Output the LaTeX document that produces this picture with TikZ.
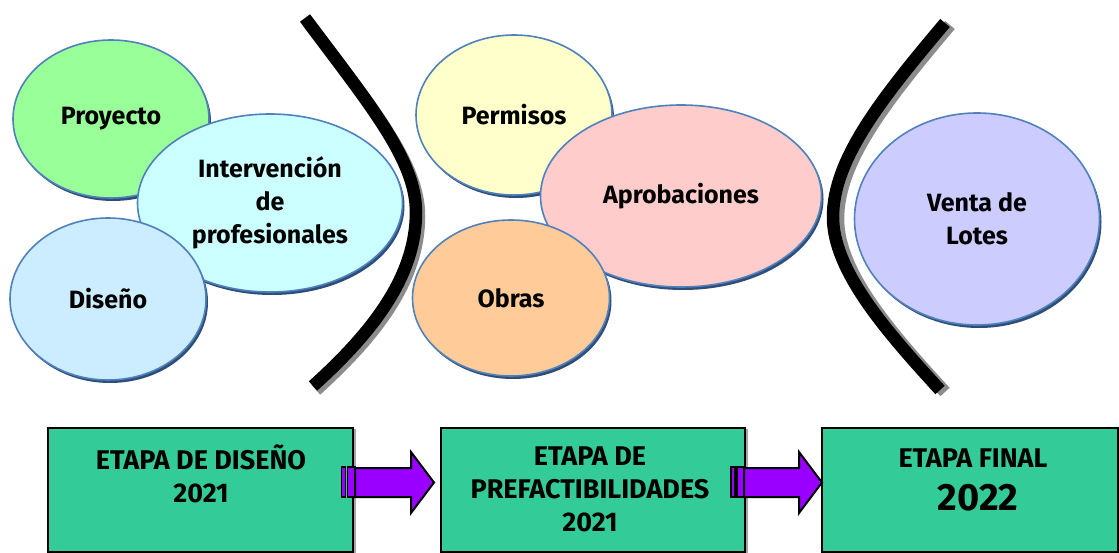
\documentclass[tikz,border=0pt]{standalone}
\usepackage{fontspec}
\setmainfont{Fira Sans}
\usetikzlibrary{shapes.geometric,shadows}
\definecolor{cgreen}{HTML}{99FF99}
\definecolor{ccyan}{HTML}{CCFFFF}
\definecolor{cblue}{HTML}{CCECFF}
\definecolor{cyellow}{HTML}{FFFFCC}
\definecolor{cpink}{HTML}{FFCCCC}
\definecolor{corange}{HTML}{FFCC99}
\definecolor{clav}{HTML}{CCCCFF}
\definecolor{edgeblue}{HTML}{4F81BD}
\definecolor{shadblue}{HTML}{2F4F7A}
\definecolor{teal1}{HTML}{33CC99}
\definecolor{purp}{HTML}{9900FF}
\tikzset{
  bubble/.style={ellipse, draw=edgeblue, line width=1.6pt, inner sep=0pt,
    font=\bfseries\fontsize{25}{33}\selectfont, align=center,
    drop shadow={shadow xshift=2pt, shadow yshift=-3pt, fill=shadblue, opacity=1}},
  stagebox/.style={rectangle, draw=black, line width=2pt, fill=teal1, inner sep=0pt,
    drop shadow={shadow xshift=2.5pt, shadow yshift=-1pt, fill=gray!70, opacity=1}},
  stagetext/.style={font=\bfseries\fontsize{27}{33}\selectfont, align=center, inner sep=0pt},
  bracket/.style={line width=12.5pt, black},
  bracketshadow/.style={line width=12.5pt, gray!90},
  blockarrow/.style={fill=purp, draw=black, line width=2pt, line join=miter},
}
\begin{document}
\begin{tikzpicture}[x=1pt,y=-1pt]
\useasboundingbox (0,0) rectangle (1119,553);

% left group
\node[bubble, fill=cgreen, minimum width=196pt, minimum height=158pt] (proy) at (111,119) {Proyecto};
\node[bubble, fill=ccyan, minimum width=265pt, minimum height=178pt] (inter) at (270,203) {Intervención\\de\\profesionales};
\node[bubble, fill=cblue, minimum width=196pt, minimum height=162pt] (dis) at (108,299) {Diseño};

% middle group
\node[bubble, fill=cyellow, minimum width=196pt, minimum height=160pt] (perm) at (514,115) {Permisos};
\node[bubble, fill=cpink, minimum width=281pt, minimum height=182pt] (aprob) at (681,196) {Aprobaciones};
\node[bubble, fill=corange, minimum width=197pt, minimum height=156pt] (obras) at (511,298) {Obras};

% right group
\node[bubble, fill=clav, minimum width=245pt, minimum height=212pt] (venta) at (977,219) {Venta de\\Lotes};

% brackets
\begin{scope}[shift={(3,4)}]
\draw[bracketshadow] (305,18) .. controls (370,105) and (416,160) .. (416,212) .. controls (416,275) and (375,330) .. (313,386);
\end{scope}
\draw[bracket] (305,18) .. controls (370,105) and (416,160) .. (416,212) .. controls (416,275) and (375,330) .. (313,386);
\begin{scope}[shift={(5,2)}]
\draw[bracketshadow] (945,23) .. controls (880,100) and (833,160) .. (833,217) .. controls (833,270) and (885,330) .. (940,390);
\end{scope}
\draw[bracket] (945,23) .. controls (880,100) and (833,160) .. (833,217) .. controls (833,270) and (885,330) .. (940,390);

% stage boxes
\node[stagebox, minimum width=305pt, minimum height=124pt] (b1) at (200.5,490) {};
\node[stagebox, minimum width=304pt, minimum height=124pt] (b2) at (593,490) {};
\node[stagebox, minimum width=296pt, minimum height=124pt] (b3) at (970,490) {};

\node[stagetext] (t1) at (201,474) {ETAPA DE DISEÑO\\2021};
\node[stagetext] (t2) at (590,489) {ETAPA DE\\PREFACTIBILIDADES\\2021};
\node[stagetext] (t3a) at (973,458) {ETAPA FINAL};
\node[stagetext, font=\bfseries\fontsize{38}{40}\selectfont] (t3b) at (978,498) {2022};

% arrows
\draw[blockarrow] (355,468) -- (411,468) -- (411,452) -- (434,482.5) -- (411,513) -- (411,497) -- (355,497) -- cycle;
\draw[blockarrow, line width=1.6pt] (341.5,467) rectangle (345.5,497);
\draw[blockarrow, line width=1.6pt] (347.5,467) rectangle (355,497);

\draw[blockarrow] (744,468) -- (799,468) -- (799,452) -- (822,482.5) -- (799,513) -- (799,497) -- (744,497) -- cycle;
\draw[blockarrow, line width=1.6pt] (731,467) rectangle (735,497);
\draw[blockarrow, line width=1.6pt] (737,467) rectangle (744,497);
\end{tikzpicture}
\end{document}
